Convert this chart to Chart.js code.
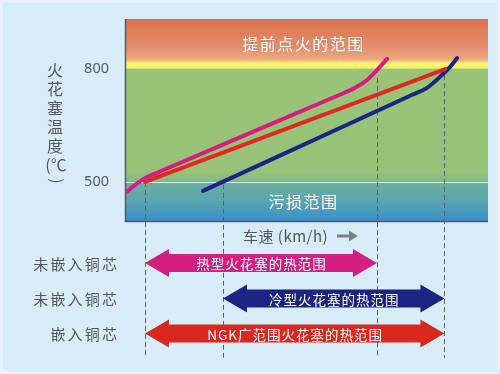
<!DOCTYPE html>
<html><head><meta charset="utf-8">
<script src="https://cdn.jsdelivr.net/npm/chart.js@4.4.1/dist/chart.umd.min.js"></script>
<style>html,body{margin:0;padding:0;background:#D8ECF8;}canvas{display:block}</style>
</head><body><canvas id="c" width="500" height="374"></canvas>
<script>
// ---- data ----
const yTicks = [500, 800];
const yTitleChars = ['火', '花', '塞', '温', '度'];
const yTitleUnit = '(℃)';
const xTitle = '车速 (km/h)';

const hotPlugX = [0.6, 2.8, 5.5, 9.0, 59.0, 63.4, 66.7, 69.4, 72.2];
const hotPlugY = [474, 492, 510, 525, 731, 750, 771, 797, 827];
const widePlugX = [5.5, 88.2];
const widePlugY = [500, 800];
const coldPlugX = [21.5, 26.0, 79.0, 83.2, 87.3, 89.5, 91.5];
const coldPlugY = [476, 496, 731, 750, 784, 805, 829];

const zoneLabels = ['提前点火的范围', '污损范围'];
const zoneLabelX = [49, 49];
const zoneLabelY = [867, 448];

const rowLabels = ['未嵌入铜芯', '未嵌入铜芯', '嵌入铜芯'];
const rangeLabels = ['热型火花塞的热范围', '冷型火花塞的热范围', 'NGK广范围火花塞的热范围'];
const rangeFrom = [5.5, 27.0, 5.5];
const rangeTo = [69.4, 88.0, 88.0];

const guideX = [5.5, 27.0, 69.4, 88.0];
const guideY = [500, 492, 776, 784];

const seriesColors = ['#D61C7F', '#DC2A22', '#1B2582'];
const arrowColors = ['#D41F7E', '#1B2483', '#D9291F'];

// ---- helpers ----
const pts = (xs, ys) => xs.map((x, i) => ({x, y: ys[i]}));
const CJK = '"Noto Sans CJK SC", "Noto Sans", sans-serif';

function drawArrow(ctx, x1, x2, yc, color) {
  const hl = 24, hh = 14, sh = 9;
  ctx.save();
  ctx.fillStyle = color;
  ctx.beginPath();
  ctx.moveTo(x1, yc);
  ctx.lineTo(x1 + hl, yc - hh);
  ctx.lineTo(x1 + hl, yc - sh);
  ctx.lineTo(x2 - hl, yc - sh);
  ctx.lineTo(x2 - hl, yc - hh);
  ctx.lineTo(x2, yc);
  ctx.lineTo(x2 - hl, yc + hh);
  ctx.lineTo(x2 - hl, yc + sh);
  ctx.lineTo(x1 + hl, yc + sh);
  ctx.lineTo(x1 + hl, yc + hh);
  ctx.closePath();
  ctx.fill();
  ctx.restore();
}

function spacedText(ctx, text, x, y, spacing, align) {
  ctx.letterSpacing = spacing + 'px';
  const w = ctx.measureText(text).width - spacing;
  let sx = x;
  if (align === 'center') sx = x - w / 2;
  else if (align === 'right') sx = x - w;
  ctx.textAlign = 'left';
  ctx.fillText(text, sx, y);
  ctx.letterSpacing = '0px';
}

const decor = {
  id: 'decor',
  beforeDraw(chart) {
    const {ctx, chartArea: a, scales: {x, y}} = chart;
    ctx.save();
    // page background with light frame
    ctx.fillStyle = '#E6F2FB';
    ctx.fillRect(0, 0, chart.width, chart.height);
    ctx.fillStyle = '#D8ECF8';
    ctx.fillRect(3, 3, chart.width - 6, chart.height - 6);
    // plot gradient
    const h = a.bottom - a.top;
    const f = v => Math.min(1, Math.max(0, (y.getPixelForValue(v) - a.top) / h));
    const g = ctx.createLinearGradient(0, a.top, 0, a.bottom);
    g.addColorStop(0, '#DC704C');
    g.addColorStop(f(860), '#E48C6A');
    g.addColorStop(f(826), '#ECA781');
    g.addColorStop(f(819), '#F8D478');
    g.addColorStop(f(815), '#FFF46C');
    g.addColorStop(f(806), '#FFF46C');
    g.addColorStop(f(802), '#E4E672');
    g.addColorStop(f(799), '#99C376');
    g.addColorStop(f(525), '#98C277');
    g.addColorStop(f(502), '#84B88B');
    g.addColorStop(f(498), '#6CAE9E');
    g.addColorStop(f(450), '#5AA6AE');
    g.addColorStop(1, '#3A8ECC');
    ctx.fillStyle = g;
    ctx.fillRect(a.left, a.top, a.right - a.left, h);
    // white 500 line
    const y500 = Math.round(y.getPixelForValue(500)) + 0.5;
    ctx.strokeStyle = 'rgba(255,255,255,0.75)';
    ctx.lineWidth = 1;
    ctx.beginPath(); ctx.moveTo(a.left, y500); ctx.lineTo(a.right, y500); ctx.stroke();
    // axis borders
    ctx.strokeStyle = '#4D5C68';
    ctx.lineWidth = 1.5;
    ctx.beginPath();
    ctx.moveTo(a.left + 0.5, a.top);
    ctx.lineTo(a.left + 0.5, a.bottom + 0.5);
    ctx.lineTo(a.right, a.bottom + 0.5);
    ctx.stroke();
    // dashed guides
    ctx.strokeStyle = '#5A636B';
    ctx.lineWidth = 1;
    ctx.setLineDash([5, 3]);
    guideX.forEach((gx, i) => {
      const px = Math.round(x.getPixelForValue(gx)) + 0.5;
      ctx.beginPath();
      ctx.moveTo(px, y.getPixelForValue(guideY[i]));
      ctx.lineTo(px, 358);
      ctx.stroke();
    });
    ctx.setLineDash([]);
    // arrows
    const rowY = [263, 298.5, 333.5];
    rangeFrom.forEach((v, i) => {
      const x1 = x.getPixelForValue(v), x2 = x.getPixelForValue(rangeTo[i]);
      drawArrow(ctx, x1, x2, rowY[i], arrowColors[i]);
      ctx.fillStyle = '#FFFFFF';
      ctx.font = '13.5px ' + CJK;
      ctx.textBaseline = 'middle';
      spacedText(ctx, rangeLabels[i], (x1 + x2) / 2, rowY[i] + 1, 1, 'center');
      ctx.fillStyle = '#555555';
      ctx.font = '15px ' + CJK;
      spacedText(ctx, rowLabels[i], 117, rowY[i] + 1, 2.2, 'right');
    });
    ctx.restore();
  },
  afterDraw(chart) {
    const {ctx, chartArea: a, scales: {x, y}} = chart;
    ctx.save();
    ctx.textBaseline = 'middle';
    // zone labels
    ctx.fillStyle = '#FFFFFF';
    ctx.font = '16px ' + CJK;
    zoneLabels.forEach((t, i) => {
      spacedText(ctx, t, x.getPixelForValue(zoneLabelX[i]), y.getPixelForValue(zoneLabelY[i]), 1.5, 'center');
    });
    // y ticks
    ctx.fillStyle = '#595959';
    ctx.font = '14.5px "Noto Sans", sans-serif';
    yTicks.forEach(v => {
      ctx.textAlign = 'right';
      ctx.fillText(String(v), 109, y.getPixelForValue(v));
    });
    // y title vertical
    ctx.font = '16px ' + CJK;
    ctx.textAlign = 'center';
    yTitleChars.forEach((c, i) => ctx.fillText(c, 55, 70 + i * 19));
    ctx.fillText(yTitleUnit.slice(0, 2), 56, 165);
    ctx.save();
    ctx.translate(57, 181);
    ctx.rotate(Math.PI / 2);
    ctx.fillText(yTitleUnit.slice(2), 0, 0);
    ctx.restore();
    // x title
    ctx.textAlign = 'left';
    ctx.fillStyle = '#555555';
    ctx.font = '15px ' + CJK;
    spacedText(ctx, xTitle, 243, 236, 0.5, 'left');
    ctx.strokeStyle = '#7F7F7F';
    ctx.fillStyle = '#7F7F7F';
    ctx.lineWidth = 3;
    ctx.beginPath(); ctx.moveTo(337, 236); ctx.lineTo(351, 236); ctx.stroke();
    ctx.beginPath(); ctx.moveTo(358, 236); ctx.lineTo(349, 230.5); ctx.lineTo(349, 241.5); ctx.closePath(); ctx.fill();
    ctx.restore();
  }
};

new Chart(document.getElementById('c'), {
  type: 'line',
  data: {
    datasets: [
      {data: pts(hotPlugX, hotPlugY), borderColor: seriesColors[0]},
      {data: pts(widePlugX, widePlugY), borderColor: seriesColors[1]},
      {data: pts(coldPlugX, coldPlugY), borderColor: seriesColors[2]}
    ].map(d => Object.assign(d, {borderWidth: 4, pointRadius: 0, fill: false, cubicInterpolationMode: 'monotone', borderCapStyle: 'round', borderJoinStyle: 'round'}))
  },
  options: {
    responsive: false,
    devicePixelRatio: 1,
    animation: false,
    layout: {padding: {left: 125, right: 12, top: 19, bottom: 153}},
    plugins: {legend: {display: false}, tooltip: {enabled: false}},
    scales: {
      x: {type: 'linear', min: 0, max: 100, display: false},
      y: {type: 'linear', min: 396, max: 933, display: false}
    }
  },
  plugins: [decor]
});
</script></body></html>
